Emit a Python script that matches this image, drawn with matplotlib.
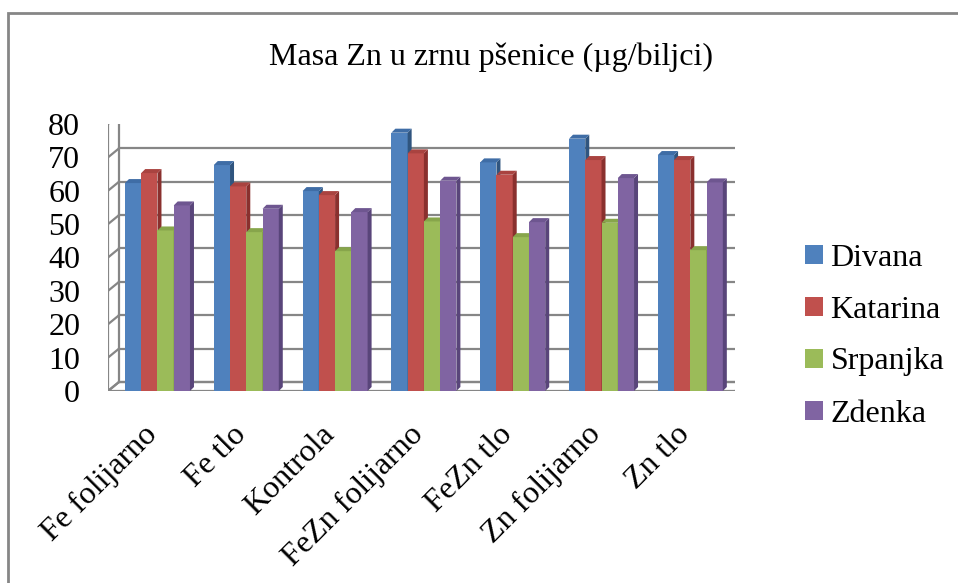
import matplotlib
matplotlib.use('Agg')
import matplotlib.pyplot as plt
from matplotlib.patches import Polygon, Patch, Rectangle
from matplotlib.transforms import ScaledTranslation

plt.rcParams['font.family'] = ['Liberation Serif', 'DejaVu Serif']

categories = ['Fe folijarno', 'Fe tlo', 'Kontrola', 'FeZn folijarno',
              'FeZn tlo', 'Zn folijarno', 'Zn tlo']
series = ['Divana', 'Katarina', 'Srpanjka', 'Zdenka']
divana = [62.3, 67.7, 59.9, 77.4, 68.5, 75.6, 70.7]
katarina = [65.3, 61.3, 58.7, 71.2, 64.8, 69.2, 69.2]
srpanjka = [48.1, 47.6, 41.9, 50.8, 46.1, 50.4, 42.2]
zdenka = [55.6, 54.6, 53.6, 63.0, 50.6, 63.8, 62.5]
values = [divana, katarina, srpanjka, zdenka]
yticks = [0, 10, 20, 30, 40, 50, 60, 70, 80]

front = ['#4F81BD', '#C0504D', '#9BBB59', '#8064A2']
side = ['#30557F', '#8A302E', '#6E8A3A', '#59457A']
top = ['#3F6DA6', '#A94340', '#87A54B', '#6E5690']

fs = 23

fig = plt.figure(figsize=(9.58, 5.83), dpi=100)
ax = fig.add_axes([108/958, 192/583, 627/958, 267/583])
xmin, xmax = -0.557, 6.503
ax.set_xlim(xmin, xmax)
ax.set_ylim(0, 80)
for s in ax.spines.values():
    s.set_visible(False)

# pixel -> data units, so the fake 3d depth can be added
p0 = ax.transData.transform((0, 0))
p1 = ax.transData.transform((1, 1))
pxx, pxy = p1[0] - p0[0], p1[1] - p0[1]
wx, wy = 11 / pxx, 9 / pxy     # wall depth
bx, by = 4 / pxx, 4 / pxy      # bar depth

grid = '#868686'
# floor
ax.add_patch(Polygon([(xmin, 0), (xmax, 0), (xmax + wx, wy), (xmin + wx, wy)],
                     closed=True, facecolor='white', edgecolor=grid, lw=1.6, zorder=1))
# back wall gridlines + left wall
for v in yticks:
    ax.plot([xmin + wx, xmax + wx], [v + wy, v + wy], color=grid, lw=1.6, zorder=1)
    ax.plot([xmin, xmin + wx], [v, v + wy], color=grid, lw=1.6, zorder=1)
ax.plot([xmin, xmin], [0, 80], color=grid, lw=1.6, zorder=1)
ax.plot([xmin + wx, xmin + wx], [wy, 80 + wy], color=grid, lw=1.6, zorder=1)

w = 0.183
z = 2
for i in range(len(categories)):
    for j in range(len(series)):
        h = values[j][i]
        x0 = i - 2 * w + j * w
        x1 = x0 + w
        ax.add_patch(Polygon([(x0, 0), (x1, 0), (x1, h), (x0, h)], closed=True,
                             facecolor=front[j], edgecolor='none', zorder=z))
        ax.add_patch(Polygon([(x1, 0), (x1 + bx, by), (x1 + bx, h + by), (x1, h)], closed=True,
                             facecolor=side[j], edgecolor='none', zorder=z))
        ax.add_patch(Polygon([(x0, h), (x1, h), (x1 + bx, h + by), (x0 + bx, h + by)], closed=True,
                             facecolor=top[j], edgecolor='none', zorder=z))
        z += 1

ax.set_yticks(yticks)
ax.set_yticklabels([str(t) for t in yticks], fontsize=fs)
ax.set_xticks(range(len(categories)))
ax.set_xticklabels(categories, fontsize=fs, rotation=45, ha='right', rotation_mode='anchor')
ax.tick_params(axis='y', length=0, pad=20)
ax.tick_params(axis='x', length=0, pad=21)
shift = ScaledTranslation(-0.15, 0, fig.dpi_scale_trans)
for lab in ax.get_xticklabels():
    lab.set_transform(lab.get_transform() + shift)

fig.text(491/958, 1 - 57/583, 'Masa Zn u zrnu pšenice (µg/biljci)', fontsize=fs,
         ha='center', va='center')

handles = [Patch(facecolor=c, edgecolor='none') for c in front]
fig.legend(handles, series, loc='center left', bbox_to_anchor=(805/958, 1 - 336/583),
           frameon=False, fontsize=fs, handlelength=0.55, handleheight=0.55,
           handletextpad=0.25, labelspacing=0.72, borderpad=0, borderaxespad=0)

# chart frame
fig.patches.append(Rectangle((8/958, -0.1), 1.2, 1.1 - 13/583, transform=fig.transFigure,
                             fill=False, edgecolor='#868686', lw=2))

fig.savefig('out.png', dpi=100)
